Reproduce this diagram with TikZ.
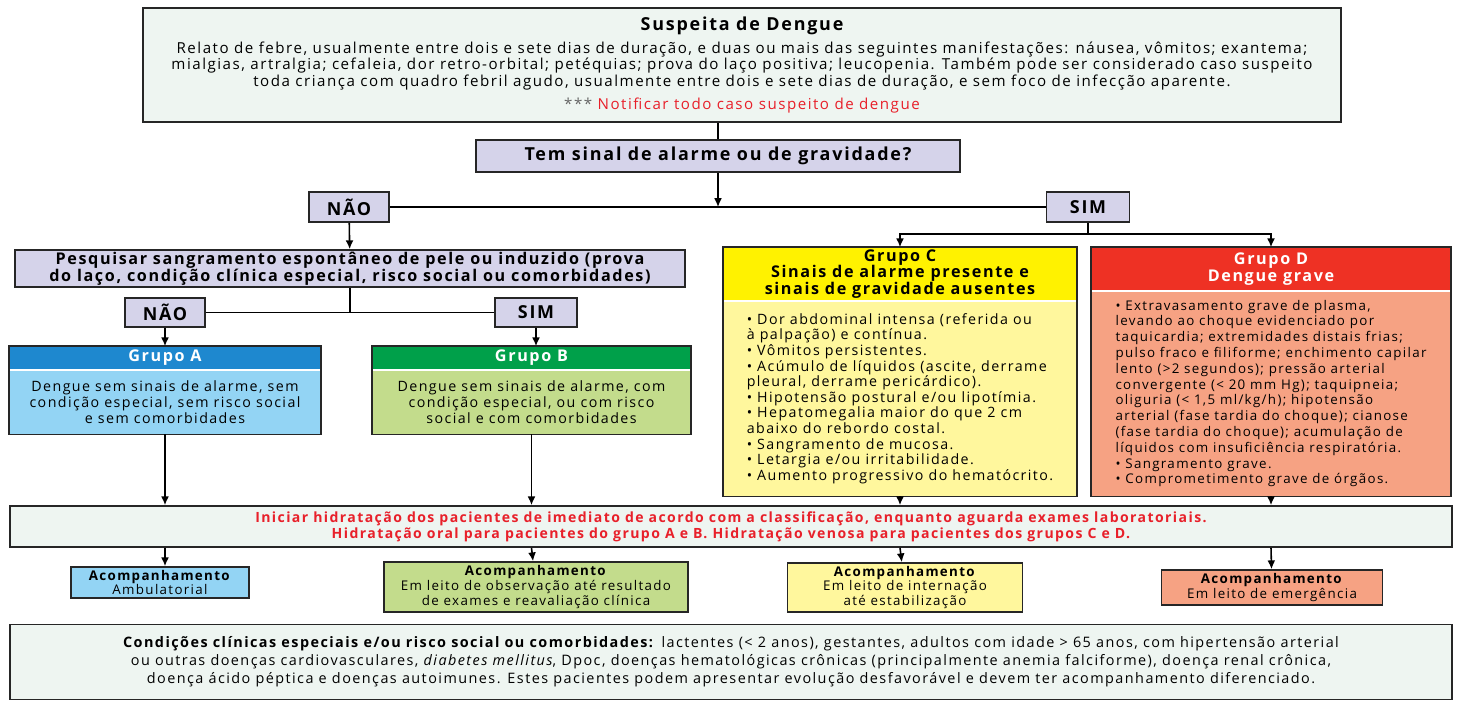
\documentclass[tikz,border=0pt]{standalone}
\usepackage{fontspec}
\setmainfont{Open Sans}[LetterSpace=10]
\usetikzlibrary{arrows.meta,positioning}
\definecolor{mint}{HTML}{EEF5F1}
\definecolor{lilac}{HTML}{D5D3EA}
\definecolor{hdrA}{HTML}{1E88CF}
\definecolor{bodyA}{HTML}{93D4F4}
\definecolor{hdrB}{HTML}{00A04A}
\definecolor{bodyB}{HTML}{C3DC8C}
\definecolor{hdrC}{HTML}{FFF200}
\definecolor{bodyC}{HTML}{FFF79D}
\definecolor{hdrD}{HTML}{EE3124}
\definecolor{bodyD}{HTML}{F6A283}
\definecolor{alerta}{HTML}{E8202A}

\begin{document}
\begin{tikzpicture}[>={Latex[length=5pt,width=4.5pt]},x=0.02cm,y=-0.02cm,line width=0.9pt]
  \tikzstyle{box}=[draw=black!85,line width=0.9pt,align=center,inner sep=0pt]
  \tikzstyle{choice}=[box,fill=lilac,font=\bfseries\fontsize{10.2}{11}\selectfont]
  \tikzstyle{band}=[align=center,inner sep=0pt,font=\bfseries\fontsize{9.2}{9.4}\selectfont]
  \tikzstyle{body}=[inner sep=0pt,font=\fontsize{8.1}{8.9}\selectfont]
  \tikzstyle{follow}=[box,font=\fontsize{7.6}{8.4}\selectfont]
  \useasboundingbox (0,0) rectangle (1461,702);

  % suspeita
  \node[box,fill=mint,minimum width=23.96cm,minimum height=2.28cm,font=\fontsize{8.6}{9.64}\selectfont] (suspeita) at (742,65)
    {{\bfseries\fontsize{10.2}{14}\selectfont Suspeita de Dengue}\\[3pt]
     Relato de febre, usualmente entre dois e sete dias de duração, e duas ou mais das seguintes manifestações: náusea, vômitos; exantema;\\
     mialgias, artralgia; cefaleia, dor retro-orbital; petéquias; prova do laço positiva; leucopenia. Também pode ser considerado caso suspeito\\
     toda criança com quadro febril agudo, usualmente entre dois e sete dias de duração, e sem foco de infecção aparente.\\[3pt]
     {\color{black!60}***} {\color{alerta}Notificar todo caso suspeito de dengue}};
  \node[choice,minimum width=9.68cm,minimum height=0.64cm] (sinal) at (718,156) {Tem sinal de alarme ou de gravidade?};
  \node[choice,minimum width=1.6cm,minimum height=0.6cm] (nao) at (349,207) {NÃO};
  \node[choice,minimum width=1.66cm,minimum height=0.6cm] (sim) at (1088,207) {SIM};
  \node[choice,minimum width=13.4cm,minimum height=0.74cm,font=\bfseries\fontsize{9.2}{9.4}\selectfont] (pesquisa) at (350,268.5)
    {Pesquisar sangramento espontâneo de pele ou induzido (prova\\do laço, condição clínica especial, risco social ou comorbidades)};
  \node[choice,minimum width=1.6cm,minimum height=0.58cm] (nao2) at (165,312.5) {NÃO};
  \node[choice,minimum width=1.64cm,minimum height=0.58cm] (sim2) at (536,312.5) {SIM};

  % grupos A e B
  \node[band,fill=hdrA,text=white,minimum width=6.2cm,minimum height=0.44cm] (tituloA) at (165,358) {Grupo A};
  \node[body,fill=bodyA,align=center,minimum width=6.2cm,minimum height=1.26cm,below=0pt of tituloA] (grupoA)
    {Dengue sem sinais de alarme, sem\\condição especial, sem risco social\\e sem comorbidades};
  \node[band,fill=hdrB,text=white,minimum width=6.34cm,minimum height=0.44cm] (tituloB) at (531.5,358) {Grupo B};
  \node[body,fill=bodyB,align=center,minimum width=6.34cm,minimum height=1.26cm,below=0pt of tituloB] (grupoB)
    {Dengue sem sinais de alarme, com\\condição especial, ou com risco\\social e com comorbidades};

  % grupos C e D
  \node[band,fill=hdrC,minimum width=7.04cm,minimum height=1.04cm] (tituloC) at (900,274)
    {Grupo C\\Sinais de alarme presente e\\sinais de gravidade ausentes};
  \node[body,fill=bodyC,align=left,minimum width=7.04cm,minimum height=3.88cm,below=0pt of tituloC] (grupoC)
    {• Dor abdominal intensa (referida ou\\
     à palpação) e contínua.\\
     • Vômitos persistentes.\\
     • Acúmulo de líquidos (ascite, derrame\\
     pleural, derrame pericárdico).\\
     • Hipotensão postural e/ou lipotímia.\\
     • Hepatomegalia maior do que 2 cm\\
     abaixo do rebordo costal.\\
     • Sangramento de mucosa.\\
     • Letargia e/ou irritabilidade.\\
     • Aumento progressivo do hematócrito.};
  \node[band,fill=hdrD,text=white,minimum width=7.16cm,minimum height=0.84cm] (tituloD) at (1271,269)
    {Grupo D\\Dengue grave};
  \node[body,fill=bodyD,align=left,minimum width=7.16cm,minimum height=4.08cm,below=0pt of tituloD,font=\fontsize{7.6}{9}\selectfont] (grupoD)
    {• Extravasamento grave de plasma,\\
     levando ao choque evidenciado por\\
     taquicardia; extremidades distais frias;\\
     pulso fraco e filiforme; enchimento capilar\\
     lento (>2 segundos); pressão arterial\\
     convergente (< 20 mm Hg); taquipneia;\\
     oliguria (< 1,5 ml/kg/h); hipotensão\\
     arterial (fase tardia do choque); cianose\\
     (fase tardia do choque); acumulação de\\
     líquidos com insuficiência respiratória.\\
     • Sangramento grave.\\
     • Comprometimento grave de órgãos.};
  \foreach \g in {A,B,C,D}
    \draw[draw=black!85] (titulo\g.north west) rectangle (grupo\g.south east);

  % hidratacao e acompanhamento
  \node[box,fill=mint,minimum width=28.84cm,minimum height=0.82cm,text=alerta,font=\bfseries\fontsize{8}{9.1}\selectfont] (hidrata) at (731,526.5)
    {Iniciar hidratação dos pacientes de imediato de acordo com a classificação, enquanto aguarda exames laboratoriais.\\
     Hidratação oral para pacientes do grupo A e B. Hidratação venosa para pacientes dos grupos C e D.};
  \node[follow,fill=bodyA,minimum width=3.56cm,minimum height=0.62cm] (acompA) at (160,582.5)
    {\textbf{Acompanhamento}\\Ambulatorial};
  \node[follow,fill=bodyB,minimum width=6.08cm,minimum height=1.0cm] (acompB) at (536,587)
    {\textbf{Acompanhamento}\\Em leito de observação até resultado\\de exames e reavaliação clínica};
  \node[follow,fill=bodyC,minimum width=4.7cm,minimum height=0.98cm] (acompC) at (905,587.5)
    {\textbf{Acompanhamento}\\Em leito de internação\\até estabilização};
  \node[follow,fill=bodyD,minimum width=4.42cm,minimum height=0.7cm] (acompD) at (1272,587.5)
    {\textbf{Acompanhamento}\\Em leito de emergência};
  \node[box,fill=mint,minimum width=28.84cm,minimum height=1.5cm,font=\fontsize{8.2}{10.2}\selectfont] (condicoes) at (731,662)
    {\textbf{Condições clínicas especiais e/ou risco social ou comorbidades:} lactentes (< 2 anos), gestantes, adultos com idade > 65 anos, com hipertensão arterial\\
     ou outras doenças cardiovasculares, \textit{diabetes mellitus}, Dpoc, doenças hematológicas crônicas (principalmente anemia falciforme), doença renal crônica,\\
     doença ácido péptica e doenças autoimunes. Estes pacientes podem apresentar evolução desfavorável e devem ter acompanhamento diferenciado.};

  % conectores
  \draw (sinal.north) -- (sinal.north |- suspeita.south);
  \draw[->] (sinal.south) -- (sinal.south |- nao.east);
  \draw (nao) -- (sim);
  \draw[->] (nao) -- (pesquisa);
  \draw (pesquisa.south) -- (pesquisa.south |- nao2.east);
  \draw (nao2) -- (sim2);
  \draw[->] (nao2) -- (tituloA);
  \draw[->] (sim2.south) -- (sim2.south |- tituloB.north);
  \coordinate (ramo) at ([yshift=-0.22cm]sim.south);
  \draw (sim) -- (ramo);
  \draw[->] (ramo) -| (tituloC);
  \draw[->] (ramo) -| (tituloD);
  \foreach \g in {A,B,C,D}
    \draw[->] (grupo\g.south) -- (grupo\g.south |- hidrata.north);
  \draw[->] (hidrata.south -| grupoA.south) -- (acompA.north -| grupoA.south);
  \foreach \g in {B,C,D}
    \draw[->] (hidrata.south -| grupo\g.south) -- (acomp\g);
\end{tikzpicture}
\end{document}
